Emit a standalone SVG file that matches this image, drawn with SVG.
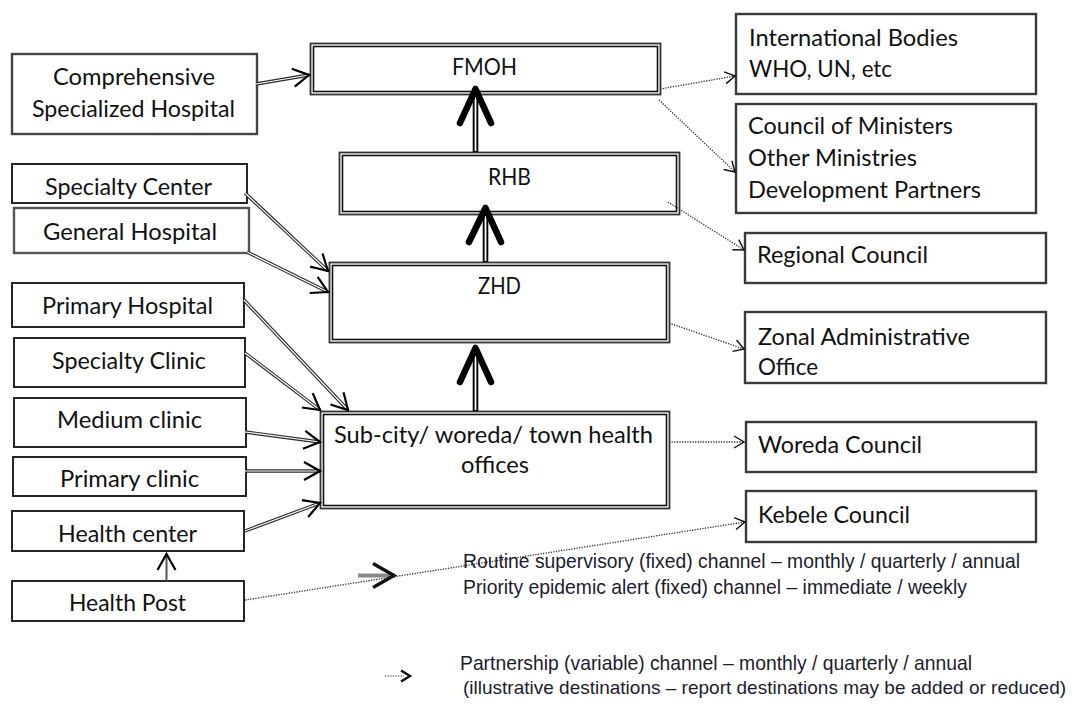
<svg xmlns="http://www.w3.org/2000/svg" width="1081" height="704" viewBox="0 0 1081 704">
<style>
.box{fill:#fff;stroke:#262626;stroke-width:2}
.rbox{fill:#fff;stroke:#3a3a3a;stroke-width:2.4}
.dout{fill:#fff;stroke:#333;stroke-width:1.8}
.din{fill:none;stroke:#111;stroke-width:1.6}
.lbl{font-family:Lato,"Liberation Sans",Arial,sans-serif;font-size:23px;fill:#111}
.leg{font-family:"Liberation Sans",Arial,Helvetica,sans-serif;font-size:21px;fill:#1c1c2e}
.railb{fill:none;stroke:#2a2a2a;stroke-width:3.4}
.railw{fill:none;stroke:#fff;stroke-width:1.2;marker-end:url(#chev)}
.single{fill:none;stroke:#555;stroke-width:2;marker-end:url(#chev)}
.dot{fill:none;stroke:#333;stroke-width:1.3;stroke-dasharray:1.3 1.3;marker-end:url(#dchev)}
.thb{fill:none;stroke:#000;stroke-width:5.6}
.thw{fill:none;stroke:#fff;stroke-width:1.8}
.head{fill:none;stroke:#000;stroke-width:6.5;stroke-linecap:round;stroke-linejoin:round}
</style>
<defs>
<marker id="chev" markerUnits="userSpaceOnUse" viewBox="-2 -2 20 22" markerWidth="20" markerHeight="22" refX="16" refY="9" orient="auto">
<path d="M0,0 L16,9 L0,18" fill="none" stroke="#000" stroke-width="2.2"/>
</marker>
<marker id="dchev" markerUnits="userSpaceOnUse" viewBox="-2 -2 14 16" markerWidth="14" markerHeight="16" refX="10" refY="6" orient="auto">
<path d="M0,0 L10,6 L0,12" fill="none" stroke="#111" stroke-width="1.4"/>
</marker>
</defs>
<rect width="1081" height="704" fill="#fff"/>

<g id="comprehensive-specialized-hospital">
<rect class="box" x="12" y="54" width="245" height="80" style="stroke:#444;stroke-width:2.4"/>
<text class="lbl" x="53" y="85" textLength="162" lengthAdjust="spacingAndGlyphs">Comprehensive</text>
<text class="lbl" x="32" y="117" textLength="203" lengthAdjust="spacingAndGlyphs">Specialized Hospital</text>
</g>
<g id="specialty-center">
<rect class="box" x="12" y="164" width="235" height="39"/>
<text class="lbl" x="45" y="195" textLength="167" lengthAdjust="spacingAndGlyphs">Specialty Center</text>
</g>
<g id="general-hospital">
<rect class="box" x="14" y="208" width="235" height="45" style="stroke:#555;stroke-width:2.4"/>
<text class="lbl" x="43" y="240" textLength="174" lengthAdjust="spacingAndGlyphs">General Hospital</text>
</g>
<g id="primary-hospital">
<rect class="box" x="12" y="283" width="232" height="44"/>
<text class="lbl" x="42" y="314" textLength="171" lengthAdjust="spacingAndGlyphs">Primary Hospital</text>
</g>
<g id="specialty-clinic">
<rect class="box" x="14" y="338" width="231" height="49"/>
<text class="lbl" x="52" y="369" textLength="154" lengthAdjust="spacingAndGlyphs">Specialty Clinic</text>
</g>
<g id="medium-clinic">
<rect class="box" x="14" y="398" width="232" height="49"/>
<text class="lbl" x="57" y="428" textLength="145" lengthAdjust="spacingAndGlyphs">Medium clinic</text>
</g>
<g id="primary-clinic">
<rect class="box" x="13" y="457" width="233" height="39"/>
<text class="lbl" x="60" y="487" textLength="139" lengthAdjust="spacingAndGlyphs">Primary clinic</text>
</g>
<g id="health-center">
<rect class="box" x="12" y="511" width="232" height="40"/>
<text class="lbl" x="58" y="542" textLength="139" lengthAdjust="spacingAndGlyphs">Health center</text>
</g>
<g id="health-post">
<rect class="box" x="12" y="581" width="232" height="40"/>
<text class="lbl" x="69" y="611" textLength="117" lengthAdjust="spacingAndGlyphs">Health Post</text>
</g>

<g id="fmoh">
<rect class="dout" x="310.5" y="43.5" width="350" height="51"/>
<rect class="din" x="313.5" y="46.5" width="344" height="45"/>
<text class="lbl" x="452" y="75" textLength="65" lengthAdjust="spacingAndGlyphs">FMOH</text>
</g>
<g id="rhb">
<rect class="dout" x="339.5" y="152.5" width="340" height="62"/>
<rect class="din" x="342.5" y="155.5" width="334" height="56"/>
<text class="lbl" x="488" y="185" textLength="43" lengthAdjust="spacingAndGlyphs">RHB</text>
</g>
<g id="zhd">
<rect class="dout" x="329.5" y="262.5" width="340" height="80"/>
<rect class="din" x="332.5" y="265.5" width="334" height="74"/>
<text class="lbl" x="478" y="294" textLength="43" lengthAdjust="spacingAndGlyphs">ZHD</text>
</g>
<g id="sub-city-woreda-town-health-offices">
<rect class="dout" x="320.5" y="411.5" width="349" height="97"/>
<rect class="din" x="323.5" y="414.5" width="343" height="91"/>
<text class="lbl" x="334" y="443" textLength="319" lengthAdjust="spacingAndGlyphs">Sub-city/ woreda/ town health</text>
<text class="lbl" x="461" y="473" textLength="68" lengthAdjust="spacingAndGlyphs">offices</text>
</g>

<g id="international-bodies">
<rect class="rbox" x="736" y="14" width="300" height="80"/>
<text class="lbl" x="749" y="46" textLength="209" lengthAdjust="spacingAndGlyphs">International Bodies</text>
<text class="lbl" x="749" y="77" textLength="143" lengthAdjust="spacingAndGlyphs">WHO, UN, etc</text>
</g>
<g id="council-of-ministers">
<rect class="rbox" x="736" y="104" width="300" height="109"/>
<text class="lbl" x="748" y="134" textLength="205" lengthAdjust="spacingAndGlyphs">Council of Ministers</text>
<text class="lbl" x="748" y="166" textLength="169" lengthAdjust="spacingAndGlyphs">Other Ministries</text>
<text class="lbl" x="748" y="198" textLength="233" lengthAdjust="spacingAndGlyphs">Development Partners</text>
</g>
<g id="regional-council">
<rect class="rbox" x="745" y="233" width="301" height="50"/>
<text class="lbl" x="757" y="263" textLength="171" lengthAdjust="spacingAndGlyphs">Regional Council</text>
</g>
<g id="zonal-administrative-office">
<rect class="rbox" x="745" y="312" width="301" height="71"/>
<text class="lbl" x="758" y="345" textLength="212" lengthAdjust="spacingAndGlyphs">Zonal Administrative</text>
<text class="lbl" x="758" y="375" textLength="60" lengthAdjust="spacingAndGlyphs">Office</text>
</g>
<g id="woreda-council">
<rect class="rbox" x="746" y="422" width="290" height="50"/>
<text class="lbl" x="758" y="453" textLength="164" lengthAdjust="spacingAndGlyphs">Woreda Council</text>
</g>
<g id="kebele-council">
<rect class="rbox" x="746" y="491" width="290" height="51"/>
<text class="lbl" x="758" y="523" textLength="152" lengthAdjust="spacingAndGlyphs">Kebele Council</text>
</g>

<g id="connectors">
<path class="thb" d="M475.5,152 V90"/>
<path class="thw" d="M475.5,151 V90"/>
<polyline class="head" points="460,123 475.5,89 491,123"/>
<path class="thb" d="M485.5,262 V210"/>
<path class="thw" d="M485.5,261 V210"/>
<polyline class="head" points="469,242 485.5,208 501,242"/>
<path class="thb" d="M475.5,411 V350"/>
<path class="thw" d="M475.5,410 V350"/>
<polyline class="head" points="460,382 475.5,348 491,382"/>

<path class="railb" d="M256,84 L309,75"/><path class="railw" d="M256,84 L309,75"/>
<path class="railb" d="M245,193 L328,271"/><path class="railw" d="M245,193 L328,271"/>
<path class="railb" d="M247,252 L328,292"/><path class="railw" d="M247,252 L328,292"/>
<path class="railb" d="M244,300 L348,410"/><path class="railw" d="M244,300 L348,410"/>
<path class="railb" d="M245,353 L320,410"/><path class="railw" d="M245,353 L320,410"/>
<path class="railb" d="M245,432 L320,442"/><path class="railw" d="M245,432 L320,442"/>
<path class="railb" d="M245,471 L320,471"/><path class="railw" d="M245,471 L320,471"/>
<path class="railb" d="M245,531 L320,503"/><path class="railw" d="M245,531 L320,503"/>
<path class="single" d="M166.5,581 V554"/>

<path class="dot" d="M660,89 L735,76"/>
<path class="dot" d="M659,100 L735,172"/>
<path class="dot" d="M668,202 L744,250"/>
<path class="dot" d="M669,323 L744,349"/>
<path class="dot" d="M669,442 L744,442"/>
<path class="dot" d="M245,600 L745,522"/>
</g>

<g id="legend">
<line x1="358" y1="575.5" x2="391" y2="575.5" stroke="#8a8a8a" stroke-width="4"/>
<polyline points="373,563.5 394,575.5 373,587.5" fill="none" stroke="#111" stroke-width="3.4"/>
<text class="leg" x="463" y="568" textLength="557" lengthAdjust="spacingAndGlyphs">Routine supervisory (fixed) channel – monthly / quarterly / annual</text>
<text class="leg" x="463" y="594" textLength="504" lengthAdjust="spacingAndGlyphs">Priority epidemic alert (fixed) channel – immediate / weekly</text>
<line x1="385" y1="676" x2="404" y2="676" stroke="#777" stroke-width="1.5" stroke-dasharray="1.3 1.3"/>
<polyline points="401,670.5 410,676 401,681.5" fill="none" stroke="#111" stroke-width="2.4"/>
<text class="leg" x="460" y="670" textLength="512" lengthAdjust="spacingAndGlyphs">Partnership (variable) channel – monthly / quarterly / annual</text>
<text class="leg" x="463" y="694" style="font-size:19px">(illustrative destinations – report destinations may be added or reduced)</text>
</g>
</svg>
